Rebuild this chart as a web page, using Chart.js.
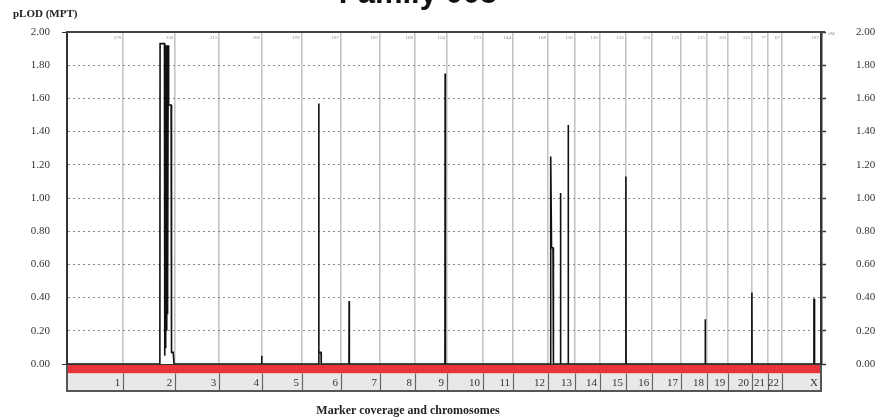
<!DOCTYPE html>
<html><head><meta charset="utf-8">
<script src="https://cdn.jsdelivr.net/npm/chart.js@4/dist/chart.umd.min.js"></script>
<style>html,body{margin:0;padding:0;background:#fff}canvas{display:block}</style>
</head><body>
<canvas id="c" width="876" height="419"></canvas>
<script>
// ---- data ----
const chartTitle = 'Family 005';
const yAxisTitle = 'pLOD (MPT)';
const xAxisTitle = 'Marker coverage and chromosomes';
const chromosomes = ['1','2','3','4','5','6','7','8','9','10','11','12','13','14','15','16','17','18','19','20','21','22','X'];
const chromosomeLengthsCM = [270,250,211,206,192,187,187,168,154,173,144,168,130,120,125,125,139,125,101,115,77,67,187];
const yTickLabels = ['0.00','0.20','0.40','0.60','0.80','1.00','1.20','1.40','1.60','1.80','2.00'];
// genome-wide cumulative position (cM) and pLOD value of the curve
const curvePositionsCM = [0,446,447,468,469,470,471,473,475,477,479,481,483,486,488,500,502,510,514,
  934,935,936,1208,1209,1210,1220,1221,1354,1355,1356,1815,1816,1817,
  2322,2323,2327,2334,2336,2369,2370,2371,2406,2407,2408,2683,2684,2685,
  3064,3065,3066,3288,3289,3290,3586,3587,3589,3590,3621];
const curvePLOD = [0,0,1.93,1.93,0.05,1.93,0.10,1.92,0.15,1.92,0.20,1.92,0.30,1.92,1.56,1.56,0.07,0.07,0,
  0,0.05,0,0,1.57,0.07,0.07,0,0,0.38,0,0,1.75,0,
  0,1.25,0.70,0.70,0,0,1.03,0,0,1.44,0,0,1.13,0,
  0,0.27,0,0,0.43,0,0,0.39,0.39,0,0];

// ---- derived ----
const boundaries = [0];
chromosomeLengthsCM.forEach(l => boundaries.push(boundaries[boundaries.length-1] + l));
const genomeEnd = boundaries[boundaries.length-1];
const points = curvePositionsCM.map((x,i) => ({x, y: curvePLOD[i]}));

const SERIF = "'Liberation Serif','DejaVu Serif',serif";

const decor = {
  id: 'decor',
  afterDraw(chart) {
    const {ctx, chartArea: a, scales: {x}} = chart;
    ctx.save();
    // top border
    ctx.strokeStyle = '#444'; ctx.lineWidth = 2;
    ctx.beginPath(); ctx.moveTo(a.left, a.top); ctx.lineTo(a.right + 4, a.top); ctx.stroke();
    // tiny length labels at top of each chromosome
    ctx.fillStyle = '#888'; ctx.font = "5px " + SERIF; ctx.textAlign = 'right'; ctx.textBaseline = 'top';
    for (let i = 1; i < boundaries.length; i++) {
      ctx.fillText(String(chromosomeLengthsCM[i-1]), x.getPixelForValue(boundaries[i]) - 2, a.top + 3);
    }
    ctx.textAlign = 'left';
    ctx.fillText('cM', a.right + 7, a.top - 1);
    // marker coverage band
    const redTop = a.bottom, redH = 9.5, grayTop = a.bottom + redH, grayH = 17.5;
    ctx.fillStyle = '#e8343b';
    ctx.fillRect(a.left, redTop, a.right - a.left, redH);
    ctx.fillStyle = '#e8e8e8';
    ctx.fillRect(a.left, grayTop, a.right - a.left, grayH);
    ctx.strokeStyle = '#666'; ctx.lineWidth = 1.2;
    for (let i = 1; i < boundaries.length - 1; i++) {
      const px = Math.round(x.getPixelForValue(boundaries[i])) + 0.5;
      ctx.beginPath(); ctx.moveTo(px, grayTop); ctx.lineTo(px, grayTop + grayH); ctx.stroke();
    }
    ctx.strokeStyle = '#555'; ctx.lineWidth = 2;
    ctx.beginPath();
    ctx.moveTo(a.left, redTop); ctx.lineTo(a.left, grayTop + grayH);
    ctx.lineTo(a.right, grayTop + grayH); ctx.lineTo(a.right, redTop);
    ctx.stroke();
    ctx.strokeStyle = '#333'; ctx.lineWidth = 1;
    ctx.beginPath(); ctx.moveTo(a.left - 5, redTop + 0.5); ctx.lineTo(a.right + 5, redTop + 0.5); ctx.stroke();
    // chromosome labels
    ctx.fillStyle = '#333'; ctx.font = "11px " + SERIF; ctx.textAlign = 'right'; ctx.textBaseline = 'middle';
    for (let i = 1; i < boundaries.length; i++) {
      ctx.fillText(chromosomes[i-1], x.getPixelForValue(boundaries[i]) - 3, grayTop + grayH/2 + 0.5);
    }
    // titles
    ctx.fillStyle = '#222'; ctx.font = "bold 11px " + SERIF; ctx.textAlign = 'left'; ctx.textBaseline = 'middle';
    ctx.fillText(yAxisTitle, 13, 14);
    ctx.font = "bold 12px " + SERIF; ctx.textAlign = 'center';
    ctx.fillText(xAxisTitle, 408, 411);
    ctx.fillStyle = '#111'; ctx.font = "bold 31px 'Liberation Sans',Arial,sans-serif"; ctx.textBaseline = 'alphabetic';
    ctx.fillText(chartTitle, 418, 3);
    ctx.restore();
  }
};

new Chart(document.getElementById('c'), {
  type: 'line',
  data: { datasets: [{ data: points, borderColor: '#111', borderWidth: 1.6, pointRadius: 0, tension: 0, fill: false }] },
  options: {
    responsive: false, animation: false, events: [],
    layout: { padding: { top: 32, left: 0, right: 0, bottom: 0 } },
    plugins: { legend: { display: false }, tooltip: { enabled: false }, title: { display: false } },
    scales: {
      x: {
        type: 'linear', min: 0, max: genomeEnd,
        afterBuildTicks: s => { s.ticks = boundaries.map(v => ({value: v})); },
        afterFit: s => { s.height = 55; s.paddingLeft = 0; s.paddingRight = 0; },
        ticks: { display: false },
        grid: { drawTicks: false, lineWidth: 1.6,
          color: c => (c.tick && (c.tick.value === 0 || c.tick.value === genomeEnd)) ? 'rgba(0,0,0,0)' : '#c4c4c4' },
        border: { display: false }
      },
      y: {
        type: 'linear', position: 'left', min: 0, max: 2,
        afterBuildTicks: s => { s.ticks = yTickLabels.map(t => ({value: parseFloat(t)})); },
        afterFit: s => { s.width = 67; s.paddingTop = 0; s.paddingBottom = 0; },
        ticks: { callback: (v, i) => yTickLabels[i], font: { family: SERIF, size: 11 }, color: '#333', padding: 12 },
        grid: { drawTicks: true, tickLength: 5, lineWidth: 1,
          color: c => (c.tick && c.tick.value === 0) ? '#333' : (c.tick && c.tick.value === 2 ? 'rgba(0,0,0,0)' : '#8a8a8a'),
          tickColor: c => (c.tick && (c.tick.value === 0 || c.tick.value === 2)) ? '#333' : 'rgba(0,0,0,0)' },
        border: { display: true, color: '#333', width: 2,
          dash: c => (c.tick && c.tick.value > 0 && c.tick.value < 2) ? [2, 3] : [] }
      },
      yR: {
        type: 'linear', position: 'right', min: 0, max: 2,
        afterBuildTicks: s => { s.ticks = yTickLabels.map(t => ({value: parseFloat(t)})); },
        afterFit: s => { s.width = 55; s.paddingTop = 0; s.paddingBottom = 0; },
        ticks: { callback: (v, i) => yTickLabels[i], font: { family: SERIF, size: 11 }, color: '#333', padding: 30 },
        grid: { drawOnChartArea: false, drawTicks: true, tickLength: 5, tickColor: '#333', tickWidth: 1.5 },
        border: { display: true, color: '#333', width: 2.5 }
      }
    }
  },
  plugins: [decor]
});
</script>
</body></html>
